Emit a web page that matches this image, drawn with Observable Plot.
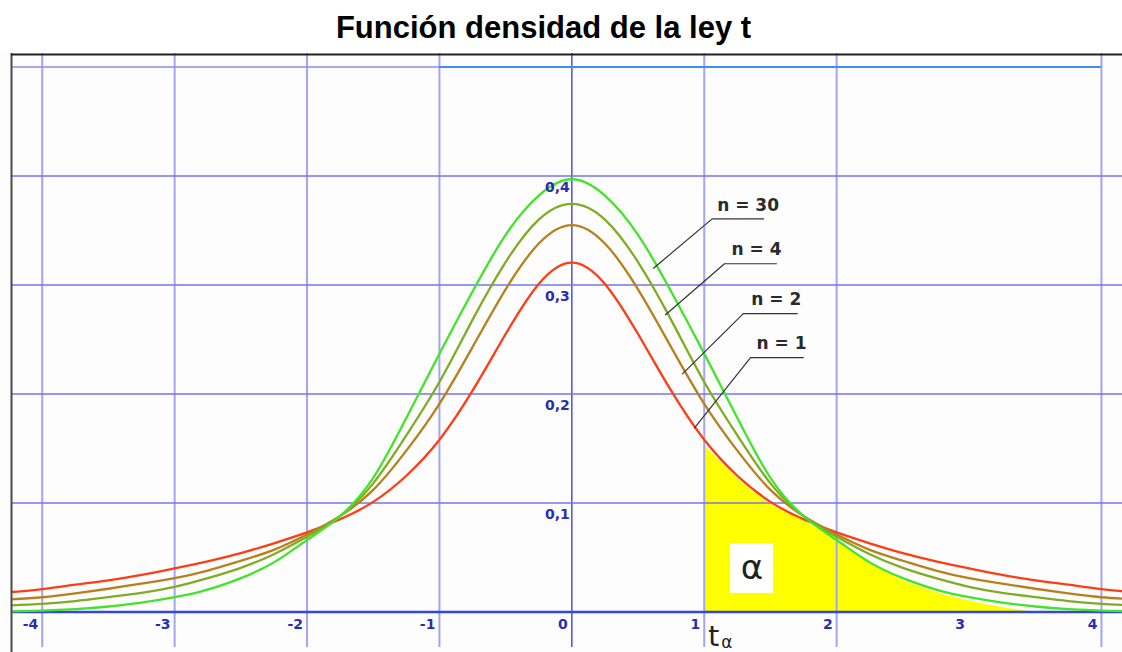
<!DOCTYPE html>
<html>
<head>
<meta charset="utf-8">
<script src="https://cdn.jsdelivr.net/npm/d3@7"></script>
<script src="https://cdn.jsdelivr.net/npm/@observablehq/plot@0.6"></script>
<style>
  html, body { margin: 0; padding: 0; background: #fff; }
  body { width: 1122px; height: 652px; overflow: hidden; position: relative; }
  #title {
    position: absolute; left: 0; top: 11.5px; width: 1087px;
    text-align: center; color: #000;
    font: bold 31px/31px "Liberation Sans", Arial, sans-serif;
  }
  #chart { position: absolute; left: 0; top: 53px; }
</style>
</head>
<body>
<div id="title">Función densidad de la ley t</div>
<div id="chart"></div>
<script>
// Sample points along the t axis
const tValues = [-4.25, -4, -3.75, -3.5, -3.25, -3, -2.75, -2.5, -2.25, -2, -1.75, -1.5, -1.25, -1, -0.75, -0.5, -0.25,
  0, 0.25, 0.5, 0.75, 1, 1.25, 1.5, 1.75, 2, 2.25, 2.5, 2.75, 3, 3.25, 3.5, 3.75, 4, 4.25];

// Density of Student's t for each number of degrees of freedom
const densN1 = [0.018, 0.021, 0.025, 0.029, 0.034, 0.040, 0.0465, 0.054, 0.063, 0.073, 0.085, 0.101, 0.125, 0.158, 0.203, 0.255, 0.301,
  0.3206, 0.301, 0.255, 0.203, 0.158, 0.125, 0.101, 0.085, 0.073, 0.063, 0.054, 0.0465, 0.040, 0.034, 0.029, 0.025, 0.021, 0.018];
const densN2 = [0.0115, 0.0135, 0.017, 0.0213, 0.026, 0.031, 0.038, 0.047, 0.057, 0.071, 0.088, 0.112, 0.148, 0.191, 0.243, 0.296, 0.338,
  0.355, 0.338, 0.296, 0.243, 0.191, 0.148, 0.112, 0.088, 0.071, 0.057, 0.047, 0.038, 0.031, 0.026, 0.0213, 0.017, 0.0135, 0.0115];
const densN4 = [0.006, 0.0075, 0.010, 0.0136, 0.0175, 0.023, 0.031, 0.0405, 0.053, 0.069, 0.088, 0.118, 0.162, 0.211, 0.268, 0.321, 0.360,
  0.3745, 0.360, 0.321, 0.268, 0.211, 0.162, 0.118, 0.088, 0.069, 0.053, 0.0405, 0.031, 0.023, 0.0175, 0.0136, 0.010, 0.0075, 0.006];
const densN30 = [0.0005, 0.0012, 0.0026, 0.005, 0.0085, 0.0135, 0.0205, 0.031, 0.0455, 0.066, 0.088, 0.123, 0.178, 0.237, 0.294, 0.346, 0.382,
  0.397, 0.382, 0.346, 0.294, 0.237, 0.178, 0.123, 0.088, 0.066, 0.0455, 0.031, 0.0205, 0.0135, 0.0085, 0.005, 0.0026, 0.0012, 0.0005];

// Shaded upper tail (area α to the right of t_α = 1)
const tailT = [1, 1.25, 1.5, 1.75, 2, 2.25, 2.5, 2.75, 3, 3.25, 3.5];
const tailDens = [0.153, 0.123, 0.099, 0.084, 0.0656, 0.045, 0.029, 0.018, 0.010, 0.004, 0.0];

// Axis ticks
const xTicks = [-4, -3, -2, -1, 0, 1, 2, 3, 4];
const xGrid = [-4, -3, -2, -1, 1, 2, 4];
const yTicks = [0.1, 0.2, 0.3, 0.4];
const yTickLabels = ["0,1", "0,2", "0,3", "0,4"];

// Curve labels: text position, leader start on the curve, underline span
const curveLabels = [
  {text: "n = 30", tx: 1.331, ty: 0.3729, cx: 0.617, cy: 0.3154, u1: 1.060, u2: 1.448, uy: 0.3607},
  {text: "n = 4",  tx: 1.395, ty: 0.3326, cx: 0.708, cy: 0.2727, u1: 1.153, u2: 1.546, uy: 0.3195},
  {text: "n = 2",  tx: 1.544, ty: 0.2864, cx: 0.836, cy: 0.2185, u1: 1.295, u2: 1.702, uy: 0.2737},
  {text: "n = 1",  tx: 1.584, ty: 0.2461, cx: 0.927, cy: 0.1690, u1: 1.350, u2: 1.748, uy: 0.2333}
];

const colors = {n1: "#ff3c14", n2: "#b8801c", n4: "#7fac22", n30: "#42e428"};

const series = (name, values) => tValues.map((t, i) => ({t, f: values[i], n: name}));
const rows = [
  ...series("n1", densN1), ...series("n2", densN2), ...series("n4", densN4), ...series("n30", densN30)
];
const tailRows = tailT.map((t, i) => ({t, f: tailDens[i]}));
const leaderRows = curveLabels.flatMap((d, i) => [
  {k: i, t: d.cx, f: d.cy}, {k: i, t: d.u1, f: d.uy}, {k: i, t: d.u2, f: d.uy}
]);

const xDomain = [-4.232, 4.159];
const yDomain = [-0.0372, 0.5124];
const gridBottom = -0.0326;
const alphaLabel = {t: 1.361, f: 0.040, x1: 1.199, x2: 1.523, y1: 0.017, y2: 0.0628};
const tickFont = "'DejaVu Sans', sans-serif";
const tickColor = "#2c2cb0";

const chart = Plot.plot({
  width: 1122,
  height: 599,
  marginLeft: 11, marginRight: 0, marginTop: 0, marginBottom: 0,
  x: {domain: xDomain, axis: null},
  y: {domain: yDomain, axis: null},
  style: {background: "#fdfdfd"},
  marks: [
    // shaded tail area and the white box behind α
    Plot.areaY(tailRows, {x: "t", y: "f", fill: "#ffff00", curve: "monotone-x"}),
    Plot.rect([alphaLabel], {x1: "x1", x2: "x2", y1: "y1", y2: "y2", fill: "#ffffff"}),

    // grid
    Plot.ruleX(xGrid, {y1: gridBottom, y2: yDomain[1], stroke: "#a4a4f6", strokeWidth: 2}),
    Plot.ruleX([0], {y1: gridBottom, y2: yDomain[1], stroke: "#4c4cf0", strokeWidth: 1.5}),
    Plot.ruleY(yTicks, {stroke: "#7575ee", strokeWidth: 1.5}),
    Plot.ruleY([0.5], {x1: xDomain[0], x2: -1, stroke: "#8a8af0", strokeWidth: 1.5}),
    Plot.ruleY([0.5], {x1: -1, x2: 4, stroke: "#3b8ff4", strokeWidth: 2}),
    Plot.ruleY([0], {stroke: "#3644e0", strokeWidth: 2.5}),

    // density curves
    ...["n1", "n2", "n4", "n30"].map(n =>
      Plot.line(rows.filter(d => d.n === n), {
        x: "t", y: "f", stroke: colors[n], strokeWidth: 2.3, curve: "natural", clip: true
      })
    ),

    // frame (top and left edges)
    Plot.ruleX([xDomain[0]], {stroke: "#4a4a4a", strokeWidth: 2}),
    Plot.ruleY([yDomain[1]], {stroke: "#222", strokeWidth: 2, dy: 1}),

    // tick labels
    Plot.text(xTicks, {
      x: d => d, y: 0, text: d => String(d), textAnchor: "end", dx: -4, dy: 12.5,
      fontSize: 14, fontWeight: "bold", fill: tickColor, fontFamily: tickFont
    }),
    Plot.text(yTicks, {
      x: 0, y: d => d, text: (d, i) => yTickLabels[i], textAnchor: "end", dx: -2, dy: 12,
      fontSize: 14, fontWeight: "bold", fill: tickColor, fontFamily: tickFont
    }),

    // curve labels with leader lines
    Plot.line(leaderRows, {x: "t", y: "f", z: "k", stroke: "#333", strokeWidth: 1.2}),
    Plot.text(curveLabels, {
      x: "tx", y: "ty", text: "text", fontSize: 17, fontWeight: "bold", fill: "#2a2a2a",
      fontFamily: "'DejaVu Sans', sans-serif"
    }),

    // α and t_α
    Plot.text([alphaLabel], {
      x: "t", y: "f", text: () => "α", fontSize: 34, fill: "#222",
      fontFamily: "'DejaVu Sans', sans-serif"
    }),
    Plot.text([1], {
      x: d => d, y: yDomain[0], text: () => "t", textAnchor: "start", lineAnchor: "bottom",
      dx: 4, dy: -7, fontSize: 28, fill: "#222", fontFamily: "'DejaVu Sans', sans-serif"
    }),
    Plot.text([1], {
      x: d => d, y: yDomain[0], text: () => "α", textAnchor: "start", lineAnchor: "bottom",
      dx: 17, dy: -5, fontSize: 17, fill: "#222", fontFamily: "'DejaVu Sans', sans-serif"
    })
  ]
});

document.getElementById("chart").appendChild(chart);
</script>
</body>
</html>
